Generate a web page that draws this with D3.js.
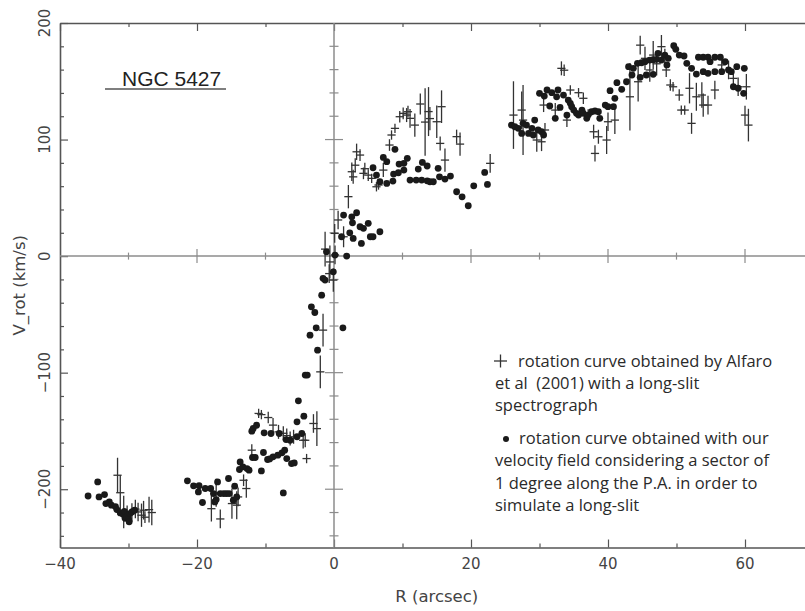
<!DOCTYPE html>
<html><head><meta charset="utf-8">
<script src="https://cdn.jsdelivr.net/npm/d3@7"></script>
<style>body{margin:0;background:#fff}svg{display:block}</style>
</head><body>
<svg id="c" width="805" height="611"></svg>
<script>
// ---- data ----
const xTicks = [-40, -20, 0, 20, 40, 60];
const yTicks = [-200, -100, 0, 100, 200];
const xMinorTicks = [-40,-30,-20,-10,0,10,20,30,40,50,60,70];
const yMinorTicks = [-240,-220,-200,-180,-160,-140,-120,-100,-80,-60,-40,-20,0,20,40,60,80,100,120,140,160,180,200];

// our velocity field (dots)
const dotR = [-35.9,-34.5,-34.3,-33.5,-33.3,-32.8,-32.5,-31.9,-31.7,-31.2,-30.8,-30.6,-30.5,-30.3,-30.0,-29.9,-29.8,-29.5,-29.1,
 -21.4,-20.5,-19.7,-19.8,-19.2,-18.8,-18.0,-17.6,-17.4,-17.2,-17.0,-16.6,-16.1,-15.7,-15.4,-15.3,-14.7,-14.5,-14.2,
 -13.7,-13.8,-13.3,-12.7,-12.4,-12.0,-11.8,-11.3,-11.9,-11.5,-10.6,-10.3,-10.2,-9.7,-9.4,-9.2,-8.9,-8.2,-8.0,-7.6,-7.4,
 -7.2,-7.0,-6.9,-6.4,-6.2,-5.8,-5.4,-5.4,-5.2,-4.7,-4.4,-4.2,-3.9,-3.5,-3.3,-2.8,-2.6,-2.4,-1.8,-1.6,-1.3,-1.1,-0.1,0.15,
 1.3,1.85,1.1,1.4,2.3,2.6,2.7,2.8,3.3,3.8,4.3,4.0,5.0,5.3,5.7,6.7,
 5.7,6.2,6.7,7.2,7.7,7.7,8.6,8.7,8.9,9.4,9.5,10.2,10.2,10.7,11.1,12.0,12.3,12.8,12.9,13.6,13.6,14.0,14.5,15.2,15.4,16.2,17.0,
 17.9,18.7,19.6,20.4,22.0,22.4,
 25.9,26.4,26.9,27.4,27.6,28.1,28.4,28.9,29.1,29.3,29.8,30.3,30.6,30.0,30.7,31.1,31.8,31.5,32.3,32.5,32.7,33.0,33.5,34.0,
 34.2,34.5,34.7,35.0,35.4,35.7,36.2,36.4,36.9,37.1,37.6,38.1,38.6,38.8,39.6,40.0,40.3,40.8,41.0,41.3,42.0,42.7,43.0,43.5,
 43.7,44.3,44.7,44.9,45.4,45.6,46.1,46.6,46.6,47.1,47.3,47.8,48.3,48.6,48.8,49.6,49.9,50.4,51.1,51.5,52.2,52.9,53.2,53.9,
 53.9,54.6,54.9,54.6,55.6,55.6,56.4,56.6,57.1,57.6,58.0,58.3,58.8,59.0,59.8,59.9];
const dotV = [-205.8,-193.7,-206.6,-204.6,-212.3,-210.9,-213.7,-215,-217.5,-220.3,-221.5,-219,-225,-223.7,-225.2,-228,-220.9,-219.5,-218,
 -192.8,-197.1,-197,-202.3,-211.4,-199.4,-199.4,-203.7,-210.9,-208.9,-193.7,-203.7,-203.7,-203.7,-190.8,-203.7,-209.4,-197.4,-206.6,
 -176.6,-183.1,-180.8,-182.3,-183.7,-150.2,-147.9,-145.1,-172.8,-172.8,-184.3,-168.5,-151.6,-174.5,-174,-152.2,-172.2,-170.8,-152.2,-168.8,-203.2,
 -166.5,-157.4,-173.7,-158,-178,-177.4,-155,-142.2,-124.2,-152.2,-137.3,-102.1,-102.1,-67.8,-43.5,-48.4,-61.5,-80.7,-33.5,-19.1,-20.6,3.7,-13.5,0.9,
 -61.5,0,16.6,35.2,20,33.7,28.6,15.2,37.2,25.2,23.8,10.9,28.1,16.6,16.6,20.9,
 75.8,69.5,63.8,84.7,81,62.4,64.4,70.4,91.6,71.5,79,79.6,73.8,83.9,65.2,65.2,74.7,65.2,80.4,77.3,64.6,63.8,63.8,75.3,68,66.1,68.7,
 55.2,50.9,43.2,60.3,71.8,61.5,
 112.4,111,109.6,105.3,113.9,112.4,105.3,109.6,103.9,116.7,108.2,106.7,103.9,139.7,137.3,142.5,140.2,128.8,118.2,136.7,142.5,127.6,138.2,121,
 133.9,131.1,128.2,125.3,122.5,121,125.3,122.5,118.2,121,123.9,124.5,123.9,118.2,129.6,128.2,141.9,128.2,135.4,148.8,143.1,149.6,162.5,155.4,
 161.1,165.4,153.4,165.9,166.8,155.4,168.2,156,168.5,168.8,174,168.2,172.5,164,169.7,180.5,177.4,172.5,171.7,165.4,161.1,156.2,170.6,170.6,
 158.2,170.6,166.8,156.8,170.6,158.2,170.6,158.2,166.8,159.7,158.2,145.3,162.5,144,139.7,161.1];

// Alfaro et al. (2001) long-slit (crosses with error bars)
const crossR = [-31.6,-31.2,-30.7,-30.2,-29.5,-29.0,-28.6,-28.1,-27.8,-27.6,-27.0,-26.6,
 -17.9,-17.2,-16.6,-14.9,-14.2,-14.0,-13.2,-12.8,-12.0,-11.0,-10.6,-9.6,-8.9,-8.1,-7.4,-6.9,-6.4,-5.9,-4.5,-4.2,-4.0,-3.0,-2.5,-2.0,-1.6,
 -1.3,-0.6,-0.7,-0.1,0.15,0.1,0.6,1.4,2.1,2.6,2.8,3.1,3.3,3.8,4.3,4.5,5.0,5.5,6.2,6.5,7.2,8.1,8.4,8.9,9.6,10.1,10.6,10.8,11.1,11.8,
 12.6,13.3,13.8,14.0,15.0,15.7,15.5,16.2,17.9,18.4,22.8,
 26.2,27.4,27.6,29.6,30.3,30.6,30.8,32.3,33.2,33.6,34.0,34.5,35.7,36.4,37.1,37.9,38.1,38.6,39.8,40.0,41.0,
 43.2,44.4,44.7,45.4,46.1,46.6,47.1,47.8,48.3,48.5,49.1,49.5,50.4,50.7,51.2,51.9,52.2,52.9,53.7,53.9,54.6,55.6,56.6,57.6,58.3,59.0,60.2,60.0,60.5];
const crossV = [-188,-203,-219.5,-222,-220,-217,-219.5,-222.3,-218,-224,-217.5,-220,
 -216.7,-203,-225.5,-212.3,-213.7,-206.6,-192.3,-199.4,-166.5,-135,-136,-138.5,-145,-150.8,-152,-154,-156.5,-155,-158,-158,-173.7,-143.6,-148,-99.3,-63.5,
 6,-5,-15,-20.6,1,19.5,31,16.6,51,72.4,68,78,89.5,86.7,71,75,69.5,66.7,59.5,61,73.8,95.3,103.9,109.6,119.6,122.5,121,123.9,118.2,112.4,
 130.5,115,124,118,115.3,128.2,96.7,82.4,102.5,96.1,79.6,
 121,125.3,116.7,99.6,98.1,129.6,108.2,125.3,161.1,159.5,116.7,142.5,140.2,135.4,121,106.7,88.1,102.4,99.6,115.3,116.7,
 136.7,149.6,181,169.7,159.7,172.5,165,179.7,170,159.7,146.8,145.3,138.2,125.3,125.3,144,113.9,136.7,138.2,129.6,129.6,142.5,164,159.7,152.5,145.3,145.3,121,112.4];
const crossErr = [15,15,14,8,8,8,8,10,8,5,11,11,
 11,12,8,13,12,8,5,8,5,4,4,5,6,6,6,6,6,6,7,6,4,8,15,14,14,
 15,14,8,10,8,8,8,9,10,8,6,6,7,5,5,5,5,4,4,4,6,5,4,4,5,5,6,5,8,10,
 9,29,21,10,14,14,6,10,6,10,8,
 29,16,30,10,8,6,6,6,6,5,6,4,4,5,5,6,7,6,12,8,12,
 29,17,8,10,10,12,10,10,8,6,5,4,5,4,4,13,9,12,11,10,8,8,7,8,7,8,11,8,14];
const crossHalfR = 0.6;

const titleText = "NGC 5427";
const legendCross = ["rotation curve obtained by Alfaro", "et al  (2001) with a long-slit", "spectrograph"];
const legendDot = ["rotation curve obtained with our", "velocity field considering a sector of", "1 degree along the P.A. in order to", "simulate a long-slit"];

// ---- drawing ----
const svg = d3.select("#c");
const L = 60, R = 813.5, T = 23, B = 547.5;
const x = d3.scaleLinear().domain([-40, 70]).range([L, R]);
const y = d3.scaleLinear().domain([-250, 200]).range([B, T]);
const axisCol = "#555", zeroCol = "#8c8c8c", textCol = "#444";
const tickFont = "DejaVu Sans, sans-serif";

const isMajX = v => v % 20 === 0;
const isMajY = v => v % 100 === 0;

function styleAxis(g){ g.selectAll("path").attr("stroke", axisCol).attr("stroke-width", 1.6);
  g.selectAll("line").attr("stroke", axisCol).attr("stroke-width", 1.2); g.selectAll("text").remove(); }
const gb = svg.append("g").attr("transform", `translate(0,${B})`)
  .call(d3.axisBottom(x).tickValues(xMinorTicks).tickSizeOuter(0).tickSizeInner(-4)); styleAxis(gb);
gb.selectAll(".tick line").attr("y2", d => isMajX(d) ? -8 : -4);
const gt = svg.append("g").attr("transform", `translate(0,${T})`)
  .call(d3.axisTop(x).tickValues(xMinorTicks).tickSizeOuter(0).tickSizeInner(-4)); styleAxis(gt);
gt.selectAll(".tick line").attr("y2", d => isMajX(d) ? 8 : 4);
const gl = svg.append("g").attr("transform", `translate(${L},0)`)
  .call(d3.axisLeft(y).tickValues(yMinorTicks).tickSizeOuter(0).tickSizeInner(-4)); styleAxis(gl);
gl.selectAll(".tick line").attr("x2", d => isMajY(d) ? 8 : 4);
const gr = svg.append("g").attr("transform", `translate(${R},0)`)
  .call(d3.axisRight(y).tickValues(yMinorTicks).tickSizeOuter(0).tickSizeInner(-4)); styleAxis(gr);
gr.selectAll(".tick line").attr("x2", d => isMajY(d) ? -8 : -4);

// zero lines with crossing ticks
svg.append("line").attr("x1", L).attr("x2", R).attr("y1", y(0)).attr("y2", y(0)).attr("stroke", zeroCol).attr("stroke-width", 1.5);
svg.append("line").attr("x1", x(0)).attr("x2", x(0)).attr("y1", T).attr("y2", B).attr("stroke", zeroCol).attr("stroke-width", 1.5);
svg.append("g").selectAll("line").data(xMinorTicks.filter(v => v !== 0 && v > -40)).join("line")
  .attr("x1", d => x(d)).attr("x2", d => x(d))
  .attr("y1", d => y(0) - (isMajX(d) ? 7 : 3.5)).attr("y2", d => y(0) + (isMajX(d) ? 7 : 3.5))
  .attr("stroke", zeroCol).attr("stroke-width", 1.2);
svg.append("g").selectAll("line").data(yMinorTicks.filter(v => v !== 0 && v !== 200)).join("line")
  .attr("y1", d => y(d)).attr("y2", d => y(d))
  .attr("x1", d => x(0) - (isMajY(d) ? 9 : 4.5)).attr("x2", d => x(0) + (isMajY(d) ? 9 : 4.5))
  .attr("stroke", zeroCol).attr("stroke-width", 1.2);

// tick labels
const fmt = d3.format("d");
svg.append("g").selectAll("text").data(xTicks).join("text")
  .attr("x", d => x(d)).attr("y", B + 21).attr("text-anchor", "middle")
  .attr("font-family", tickFont).attr("font-size", 15).attr("fill", textCol).text(d => fmt(d));
svg.append("g").selectAll("text").data(yTicks).join("text")
  .attr("transform", d => `translate(${L - 10},${y(d)}) rotate(-90)`).attr("text-anchor", "middle")
  .attr("font-family", tickFont).attr("font-size", 15).attr("fill", textCol).text(d => fmt(d));

// axis titles
svg.append("text").attr("x", (L + R) / 2).attr("y", 602).attr("text-anchor", "middle")
  .attr("font-family", tickFont).attr("font-size", 16.5).attr("fill", textCol).text("R (arcsec)");
svg.append("text").attr("transform", `translate(25,${(T + B) / 2}) rotate(-90)`).attr("text-anchor", "middle")
  .attr("font-family", tickFont).attr("font-size", 16.5).attr("fill", textCol).text("V_rot (km/s)");

// crosses
const crosses = crossR.map((r, i) => ({r, v: crossV[i], e: Math.max(crossErr[i], 4)}));
const gc = svg.append("g").attr("stroke", "#333").attr("stroke-width", 1.3);
gc.selectAll("line.h").data(crosses).join("line").attr("class", "h")
  .attr("x1", d => x(d.r - crossHalfR)).attr("x2", d => x(d.r + crossHalfR))
  .attr("y1", d => y(d.v)).attr("y2", d => y(d.v));
gc.selectAll("line.v").data(crosses).join("line").attr("class", "v")
  .attr("x1", d => x(d.r)).attr("x2", d => x(d.r))
  .attr("y1", d => y(d.v - d.e)).attr("y2", d => y(d.v + d.e));

// dots
const dots = dotR.map((r, i) => ({r, v: dotV[i]}));
svg.append("g").selectAll("circle").data(dots).join("circle")
  .attr("cx", d => x(d.r)).attr("cy", d => y(d.v)).attr("r", 3.4).attr("fill", "#1a1a1a");

// title
svg.append("text").attr("x", 122).attr("y", 86).attr("font-family", "Liberation Sans, Arial, sans-serif")
  .attr("font-size", 21).attr("fill", "#222").text(titleText);
svg.append("line").attr("x1", 105).attr("x2", 226).attr("y1", 89).attr("y2", 89).attr("stroke", "#555").attr("stroke-width", 1.5);

// legend
const lf = "Open Sans, sans-serif", lfs = 16.5, lcol = "#2a2a2a";
svg.append("line").attr("x1", 494).attr("x2", 507).attr("y1", 361).attr("y2", 361).attr("stroke", "#333").attr("stroke-width", 1.3);
svg.append("line").attr("x1", 500.5).attr("x2", 500.5).attr("y1", 354.5).attr("y2", 367.5).attr("stroke", "#333").attr("stroke-width", 1.3);
svg.append("circle").attr("cx", 506).attr("cy", 439).attr("r", 3).attr("fill", "#1a1a1a");
const lx1 = [518, 495, 495], ly1 = [366.5, 388.5, 410.5];
svg.append("g").selectAll("text").data(legendCross).join("text")
  .attr("x", (d, i) => lx1[i]).attr("y", (d, i) => ly1[i]).style("white-space", "pre")
  .attr("font-family", lf).attr("font-size", lfs).attr("fill", lcol).text(d => d);
const lx2 = [519, 495, 495, 495], ly2 = [443.5, 466, 488.5, 511];
svg.append("g").selectAll("text").data(legendDot).join("text")
  .attr("x", (d, i) => lx2[i]).attr("y", (d, i) => ly2[i]).style("white-space", "pre")
  .attr("font-family", lf).attr("font-size", lfs).attr("fill", lcol).text(d => d);
</script></body></html>
